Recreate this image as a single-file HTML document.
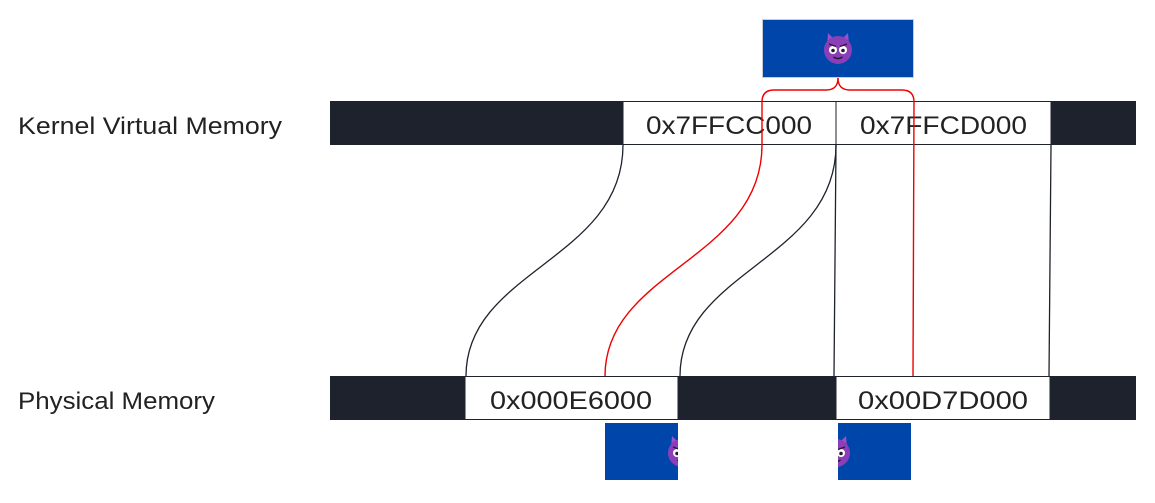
<!DOCTYPE html>
<html><head><meta charset="utf-8"><style>
html,body{margin:0;padding:0;background:#fff;width:1155px;height:503px;overflow:hidden}
</style></head><body>
<svg width="1155" height="503" viewBox="0 0 1155 503" xmlns="http://www.w3.org/2000/svg" font-family="Liberation Sans, sans-serif">
<defs>
<g id="devil">
  <path d="M-11,-5 L-10,-17 L-3,-10 Z" fill="#9b4fc8"/>
  <path d="M11,-5 L10,-17 L3,-10 Z" fill="#9b4fc8"/>
  <circle r="14" fill="#8a3fb8"/>
  <circle cx="-5" cy="0" r="4" fill="#fff"/>
  <circle cx="5" cy="0" r="4" fill="#fff"/>
  <circle cx="-5" cy="0.5" r="1.8" fill="#2a1a30"/>
  <circle cx="5" cy="0.5" r="1.8" fill="#2a1a30"/>
  <path d="M-9,-6 L-2,-3.5 M9,-6 L2,-3.5" stroke="#2a1a30" stroke-width="1.3"/>
  <path d="M-4.5,7 Q0,10 4.5,7" stroke="#2a1a30" stroke-width="1.5" fill="none"/>
</g>
<clipPath id="c1"><rect x="605" y="423" width="73" height="57"/></clipPath>
<clipPath id="c2"><rect x="838" y="423" width="73" height="57"/></clipPath>
</defs>

<text x="18" y="134" font-size="24" fill="#222" textLength="264" lengthAdjust="spacingAndGlyphs">Kernel Virtual Memory</text>
<text x="18" y="409" font-size="24" fill="#222" textLength="197" lengthAdjust="spacingAndGlyphs">Physical Memory</text>

<rect x="762.5" y="19.5" width="151" height="58" fill="#0046aa" stroke="#c8ccd4"/>
<use href="#devil" x="838" y="50"/>

<rect x="330" y="101" width="806" height="44" fill="#1e222c"/>
<rect x="623" y="101.5" width="213" height="43" fill="#fff" stroke="#1e222c"/>
<rect x="836" y="101.5" width="215" height="43" fill="#fff" stroke="#1e222c"/>
<text x="646" y="134" font-size="25" fill="#222" textLength="166" lengthAdjust="spacingAndGlyphs">0x7FFCC000</text>
<text x="860" y="134" font-size="25" fill="#222" textLength="167" lengthAdjust="spacingAndGlyphs">0x7FFCD000</text>

<rect x="330" y="376" width="806" height="44" fill="#1e222c"/>
<rect x="465" y="376.5" width="213" height="43" fill="#fff" stroke="#1e222c"/>
<rect x="836" y="376.5" width="214" height="43" fill="#fff" stroke="#1e222c"/>
<text x="490" y="409" font-size="25" fill="#222" textLength="162" lengthAdjust="spacingAndGlyphs">0x000E6000</text>
<text x="858" y="409" font-size="25" fill="#222" textLength="170" lengthAdjust="spacingAndGlyphs">0x00D7D000</text>

<rect x="605" y="423" width="73" height="57" fill="#0046aa"/>
<g clip-path="url(#c1)"><use href="#devil" x="682" y="453"/></g>
<rect x="838" y="423" width="73" height="57" fill="#0046aa"/>
<g clip-path="url(#c2)"><use href="#devil" x="836" y="453"/></g>

<g stroke="#1e222c" stroke-width="1.3" fill="none">
<path d="M623,145 C623,260 466,270 466,376"/>
<path d="M836,145 C836,260 680,270 680,376"/>
<path d="M836,145 L834,376"/>
<path d="M1051,145 L1049,376"/>
</g>
<g stroke="#f00000" stroke-width="1.4" fill="none">
<path d="M838,78 Q838,90 826,90 L774,90 Q762,90 762,102 L762,145 C762,260 605,270 605,376"/>
<path d="M838,78 Q838,90 850,90 L902,90 Q914,90 914,102 L913,376"/>
</g>
</svg>
</body></html>
